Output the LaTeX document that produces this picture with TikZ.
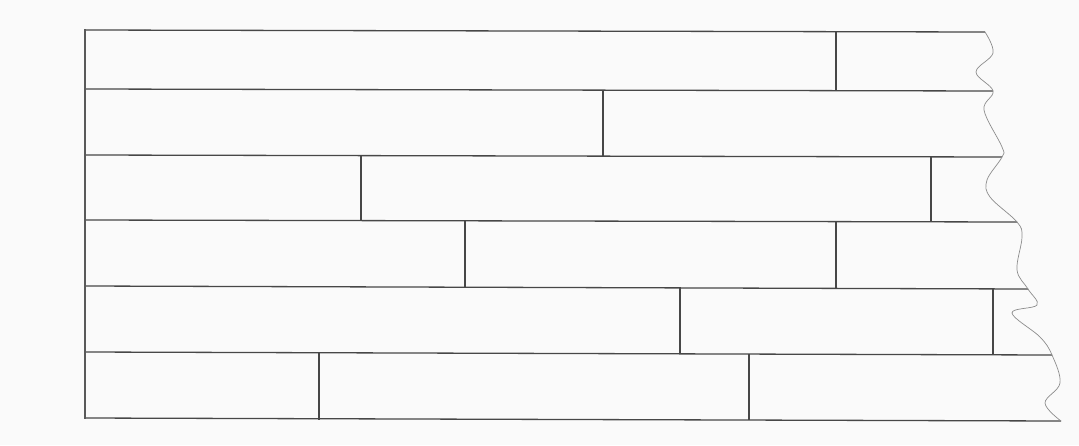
\documentclass[tikz,border=0pt]{standalone}
\begin{document}
\begin{tikzpicture}[x=1pt,y=-1pt,
  course/.style={draw=black!72,line width=1.3pt},
  joint/.style={draw=black!72,line width=1.3pt},
  edge/.style={draw=black!65,line width=1.8pt},
  breakline/.style={draw=black!45,line width=0.7pt}]
\fill[black!2] (0,0) rectangle (1079,445);
\useasboundingbox (0,0) rectangle (1079,445);
% courses (horizontal lines)
\draw[course] (85,30) -- (985,32);
\draw[course] (85,89) -- (993,91);
\draw[course] (85,155) -- (1002,157);
\draw[course] (85,220) -- (1017,222);
\draw[course] (85,286) -- (1028,289);
\draw[course] (85,352) -- (1052,355);
\draw[course] (85,418) -- (1061,421);
% left edge
\draw[edge] (85,29) -- (85,419);
% joints
\draw[joint] (836,31) -- (836,90);
\draw[joint] (603,90) -- (603,156);
\draw[joint] (361,156) -- (361,221);
\draw[joint] (931,157) -- (931,222);
\draw[joint] (465,221) -- (465,287);
\draw[joint] (836,221) -- (836,288);
\draw[joint] (680,287) -- (680,354);
\draw[joint] (993,288) -- (993,354);
\draw[joint] (319,353) -- (319,420);
\draw[joint] (749,354) -- (749,420);
% break line
\draw[breakline] plot[smooth,tension=0.6] coordinates {
 (985,32) (993,53) (976,72) (993,91) (984,110) (1002,147) (1002,157)
 (987,180) (990,197) (1017,222) (1022,237) (1017,270) (1028,289)
 (1037,305) (1012,313) (1040,337) (1052,355) (1060,383) (1045,403) (1061,421)};
\end{tikzpicture}
\end{document}
